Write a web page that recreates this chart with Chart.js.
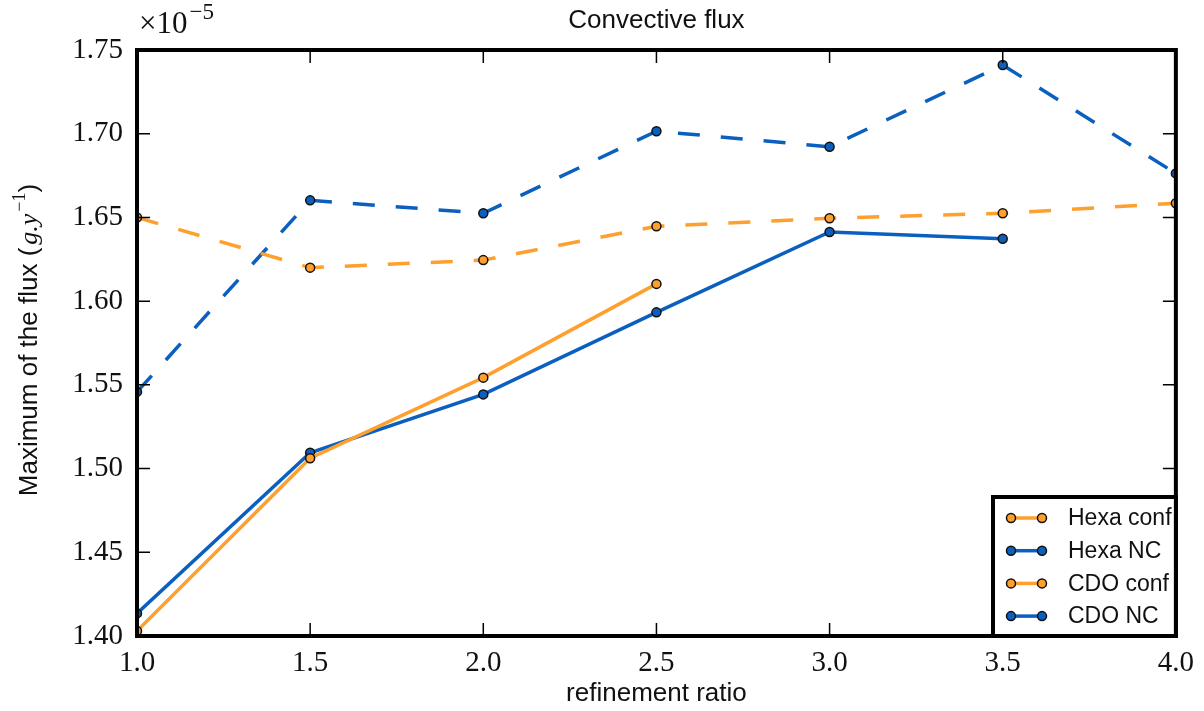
<!DOCTYPE html>
<html>
<head>
<meta charset="utf-8">
<script src="https://cdn.jsdelivr.net/npm/chart.js@4/dist/chart.umd.min.js"></script>
<style>
  html, body { margin: 0; padding: 0; background: #fff; }
  #wrap { width: 1204px; height: 711px; }
</style>
</head>
<body>
<div id="wrap"><canvas id="myChart" width="1204" height="711"></canvas></div>
<script>
// refinement ratio (x) and flux maxima in units of 1e-5
var ratios = [1.0, 1.5, 2.0, 2.5, 3.0, 3.5, 4.0];
var hexaConf = [1.650, 1.620, 1.6245, 1.6447, 1.6495, 1.6525, 1.6585];
var hexaNC = [1.5458, 1.6602, 1.6525, 1.7015, 1.6922, 1.7410, 1.6763];
var cdoConf = [1.4030, 1.5062, 1.5543, 1.6103];
var cdoNC = [1.4135, 1.5094, 1.5443, 1.5933, 1.6413, 1.6373];
var xTicks = [1.0, 1.5, 2.0, 2.5, 3.0, 3.5, 4.0];
var yTicks = [1.40, 1.45, 1.50, 1.55, 1.60, 1.65, 1.70, 1.75];

var orange = '#ff9f2e';
var blue = '#0b5fbf';

function pts(ys) {
    return ys.map(function(v, i){ return {x: ratios[i], y: v}; });
}

function series(label, ys, color, dashed) {
    return {
        label: label,
        data: pts(ys),
        borderColor: color,
        backgroundColor: color,
        borderWidth: 3.5,
        borderDash: dashed ? [22, 21] : [],
        pointRadius: 4.5,
        pointBackgroundColor: color,
        pointBorderColor: '#111',
        pointBorderWidth: 1.5,
        tension: 0
    };
}

// frame, inward ticks, texts and legend box
var decor = {
    id: 'decor',
    afterDatasetsDraw: function(chart) {
        var c = chart.ctx, a = chart.chartArea;
        var xs = chart.scales.x, ys = chart.scales.y;
        c.save();
        c.strokeStyle = '#000';
        c.lineWidth = 1.5;
        xTicks.forEach(function(t){
            var px = xs.getPixelForValue(t);
            c.beginPath();
            c.moveTo(px, a.bottom); c.lineTo(px, a.bottom - 13);
            c.moveTo(px, a.top); c.lineTo(px, a.top + 13);
            c.stroke();
        });
        yTicks.forEach(function(t){
            var py = ys.getPixelForValue(t);
            c.beginPath();
            c.moveTo(a.left, py); c.lineTo(a.left + 13, py);
            c.moveTo(a.right, py); c.lineTo(a.right - 13, py);
            c.stroke();
        });
        c.lineWidth = 4;
        c.strokeRect(a.left, a.top, a.right - a.left, a.bottom - a.top);

        // legend
        var lx = 993, ly = 497, lw = a.right - lx, lh = a.bottom - ly;
        c.fillStyle = '#fff';
        c.fillRect(lx, ly, lw, lh);
        c.lineWidth = 4;
        c.strokeRect(lx, ly, lw, lh);
        c.font = '23px "Liberation Sans", Arial, sans-serif';
        c.textBaseline = 'middle';
        c.textAlign = 'left';
        chart.data.datasets.forEach(function(ds, i){
            var y = 518 + i * 32.7;
            c.strokeStyle = ds.borderColor;
            c.lineWidth = 3.5;
            c.beginPath(); c.moveTo(1011, y); c.lineTo(1042, y); c.stroke();
            [1011, 1042].forEach(function(mx){
                c.beginPath(); c.arc(mx, y, 4.5, 0, Math.PI * 2);
                c.fillStyle = ds.borderColor; c.fill();
                c.strokeStyle = '#111'; c.lineWidth = 1.5; c.stroke();
            });
            c.fillStyle = '#111';
            c.fillText(ds.label, 1068, y + 1);
        });

        // title
        c.fillStyle = '#111';
        c.textAlign = 'center';
        c.font = '26px "Liberation Sans", Arial, sans-serif';
        c.fillText('Convective flux', (a.left + a.right) / 2, 21);
        c.fillText('refinement ratio', (a.left + a.right) / 2, 694);

        // offset text
        c.textAlign = 'left';
        c.font = '31px "Liberation Serif", serif';
        c.fillText('×10', 139, 25);
        var w = c.measureText('×10').width;
        c.font = '23px "Liberation Serif", serif';
        c.fillText('−5', 139 + w + 2, 13);

        // y axis title with math part
        c.translate(30, 340);
        c.rotate(-Math.PI / 2);
        var parts = [
            {t: 'Maximum of the flux (', f: '26px "Liberation Sans", Arial, sans-serif', dy: 0},
            {t: 'g.y', f: 'italic 26px "Liberation Serif", serif', dy: 0},
            {t: '−1', f: '18px "Liberation Serif", serif', dy: -10},
            {t: ')', f: '26px "Liberation Sans", Arial, sans-serif', dy: 0}
        ];
        var total = 0;
        parts.forEach(function(p){ c.font = p.f; p.w = c.measureText(p.t).width + (p.t === 'g.y' ? 5 : 0); total += p.w; });
        var x0 = -total / 2;
        parts.forEach(function(p){
            c.font = p.f;
            c.fillText(p.t, x0 + (p.t === 'g.y' ? 3 : 0), p.dy);
            x0 += p.w;
        });
        c.restore();
    }
};

var ctx = document.getElementById('myChart').getContext('2d');
var chart = new Chart(ctx, {
    type: 'line',
    data: {
        datasets: [
            series('Hexa conf', hexaConf, orange, true),
            series('Hexa NC', hexaNC, blue, true),
            series('CDO conf', cdoConf, orange, false),
            series('CDO NC', cdoNC, blue, false)
        ]
    },
    options: {
        responsive: false,
        animation: false,
        layout: { padding: { top: 50, right: 21, left: 0, bottom: 0 } },
        plugins: {
            legend: { display: false },
            tooltip: { enabled: false }
        },
        scales: {
            x: {
                type: 'linear',
                min: 1.0, max: 4.0,
                afterFit: function(s){ s.height = 75; },
                afterBuildTicks: function(s){ s.ticks = xTicks.map(function(v){ return {value: v}; }); },
                grid: { display: false, drawTicks: false },
                border: { display: false },
                ticks: {
                    padding: 10,
                    color: '#111',
                    font: { family: '"Liberation Serif", serif', size: 29 },
                    callback: function(v){ return v.toFixed(1); }
                }
            },
            y: {
                min: 1.40, max: 1.75,
                afterFit: function(s){ s.width = 137; },
                afterBuildTicks: function(s){ s.ticks = yTicks.map(function(v){ return {value: v}; }); },
                grid: { display: false, drawTicks: false },
                border: { display: false },
                ticks: {
                    padding: 14,
                    color: '#111',
                    font: { family: '"Liberation Serif", serif', size: 29 },
                    callback: function(v){ return v.toFixed(2); }
                }
            }
        }
    },
    plugins: [decor]
});
</script>
</body>
</html>
